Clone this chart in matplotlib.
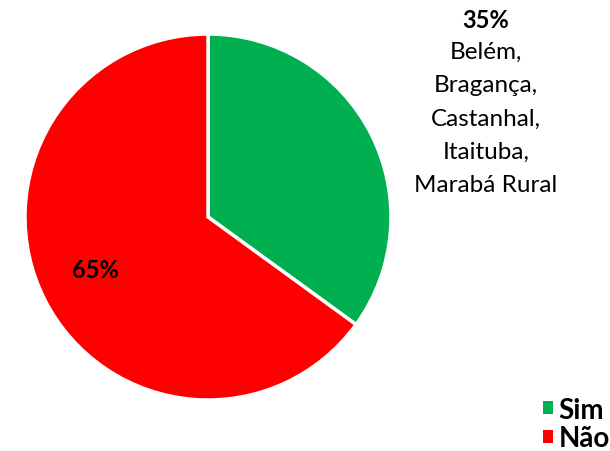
import matplotlib.pyplot as plt
from matplotlib.patches import Patch

categorias = ['Sim', 'Não']
valores = [35, 65]
cores = ['#00B050', '#FF0000']
rotulos = ['35%', '65%']
cidades_sim = ['Belém,', 'Bragança,', 'Castanhal,', 'Itaituba,', 'Marabá Rural']

plt.rcParams['font.family'] = ['Lato', 'DejaVu Sans']

fig = plt.figure(figsize=(6.1, 4.52), dpi=100)
ax = fig.add_axes([25 / 610, 51 / 452, 366 / 610, 366 / 452])
ax.pie(valores, colors=cores, startangle=90, counterclock=False,
       wedgeprops=dict(edgecolor='white', linewidth=2.5), radius=1)
ax.set_xlim(-1, 1)
ax.set_ylim(-1, 1)
ax.axis('off')

# rotulo da fatia "Não" dentro do setor
fig.text(95 / 610, 1 - 271 / 452, rotulos[1], fontsize=17, fontweight='bold',
         ha='center', va='center')

# rotulo da fatia "Sim" com municipios fora do circulo
fig.text(486 / 610, 1 - 20 / 452, rotulos[0], fontsize=17, fontweight='bold',
         ha='center', va='center')
for i, cidade in enumerate(cidades_sim):
    fig.text(486 / 610, 1 - (52 + 33.5 * i) / 452, cidade, fontsize=17.5,
             ha='center', va='center')

handles = [Patch(facecolor=c, label=l) for c, l in zip(cores, categorias)]
leg = fig.legend(handles=handles, loc='center left', bbox_to_anchor=(543 / 610, 1 - 425 / 452),
                 frameon=False, handlelength=0.35, handleheight=0.35, handletextpad=0.2,
                 labelspacing=0.1, prop=dict(size=20, weight='bold'), borderaxespad=0,
                 borderpad=0)

fig.savefig('out.png', dpi=100)
